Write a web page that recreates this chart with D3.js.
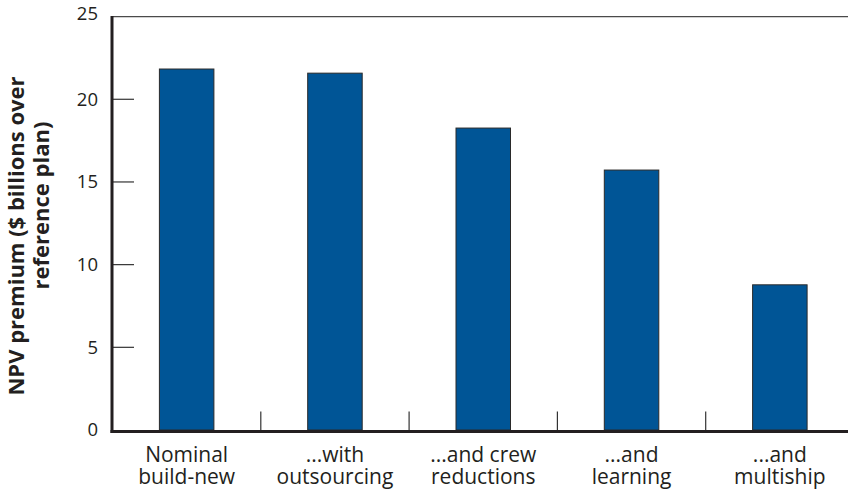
<!DOCTYPE html>
<html><head><meta charset="utf-8">
<script src="https://cdn.jsdelivr.net/npm/d3@7"></script>
<style>body{margin:0;background:#fff}svg{display:block}text{font-family:"Open Sans",sans-serif;fill:#231f20}</style>
</head><body>
<svg id="c" width="848" height="492"></svg>
<script>
const categories = [["Nominal","build-new"],["...with","outsourcing"],["...and crew","reductions"],["...and","learning"],["...and","multiship"]];
const values = [21.83, 21.58, 18.26, 15.72, 8.78];
const yTicks = [0,5,10,15,20,25];
const yTitle = ["NPV premium ($ billions over","reference plan)"];

const svg = d3.select("#c");
const x = d3.scaleBand().domain(d3.range(categories.length)).range([112.5, 854]).paddingInner(0).paddingOuter(0);
const y = d3.scaleLinear().domain([0,25]).range([430,16.6]);
const bw = 54.5;

// top border
svg.append("line").attr("x1",112).attr("x2",848).attr("y1",y(25)).attr("y2",y(25)).attr("stroke","#4a4a4a").attr("stroke-width",1.3);

// bars
svg.selectAll("rect.bar").data(values).join("rect")
  .attr("x",(d,i)=>x(i)+x.bandwidth()/2-bw/2).attr("width",bw)
  .attr("y",d=>y(d)).attr("height",d=>y(0)-y(d))
  .attr("fill","#005596").attr("stroke","#2a2a2a").attr("stroke-width",1);

// y ticks
svg.selectAll("line.yt").data(yTicks.filter(t=>t>0&&t<25)).join("line")
  .attr("x1",112).attr("x2",134).attr("y1",d=>y(d)).attr("y2",d=>y(d)).attr("stroke","#333").attr("stroke-width",1.2);
svg.selectAll("text.yl").data(yTicks).join("text")
  .attr("x",98).attr("y",d=>y(d)).attr("dy",d=>d===25?"0.2em":"0.35em").attr("text-anchor","end")
  .attr("font-size",18.5).text(d=>d);

// separator ticks
svg.selectAll("line.sep").data(d3.range(1,categories.length)).join("line")
  .attr("x1",i=>x(i)).attr("x2",i=>x(i)).attr("y1",411.5).attr("y2",431).attr("stroke","#333").attr("stroke-width",1.2);

// axes lines
svg.append("line").attr("x1",112).attr("x2",112).attr("y1",y(25)-0.7).attr("y2",433).attr("stroke","#231f20").attr("stroke-width",3);
svg.append("line").attr("x1",110.5).attr("x2",848).attr("y1",431.5).attr("y2",431.5).attr("stroke","#231f20").attr("stroke-width",3);

// category labels
categories.forEach((c,i)=>{
  const t = svg.append("text").attr("x",x(i)+x.bandwidth()/2).attr("text-anchor","middle").attr("font-size",21);
  c.forEach((line,j)=>t.append("tspan").attr("x",x(i)+x.bandwidth()/2).attr("y",462+j*21.5).text(line));
});

// y title (each line centred on its own position, as in the reference)
const titleCenters = [236, 205.5];
const titleBase = [23.5, 48.5];
yTitle.forEach((l,j)=>{
  svg.append("text").attr("transform","translate("+titleBase[j]+","+titleCenters[j]+") rotate(-90)")
    .attr("text-anchor","middle").attr("font-size",22).attr("font-weight","bold").text(l);
});
</script>
</body></html>
